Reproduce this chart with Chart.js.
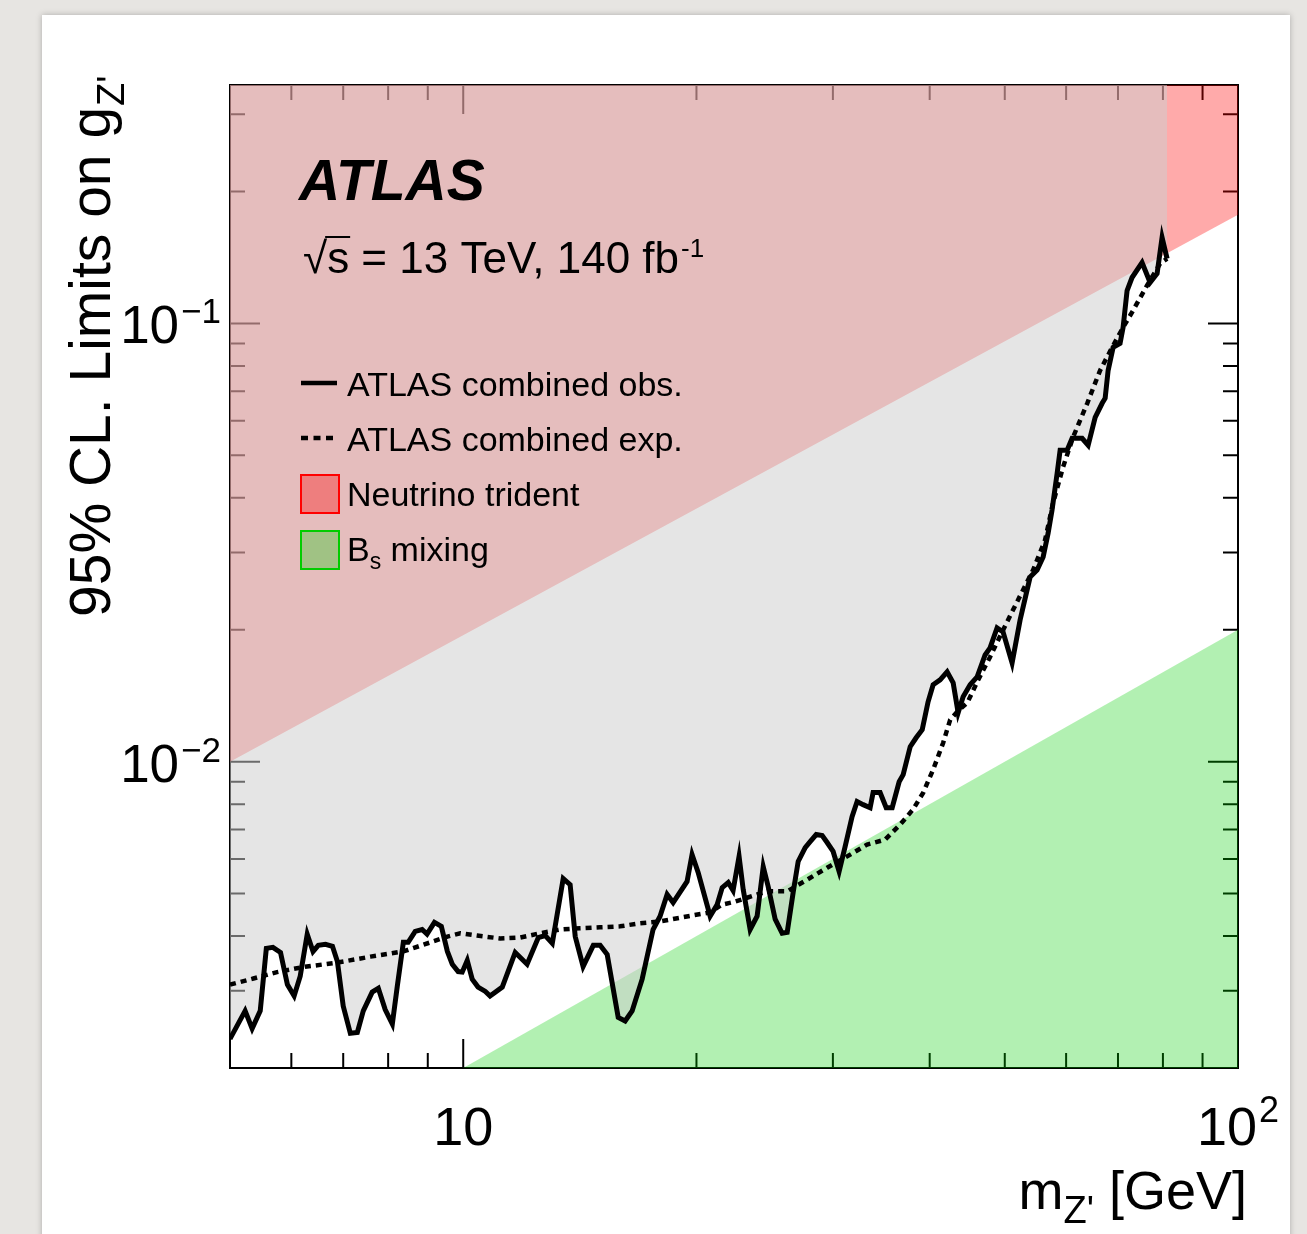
<!DOCTYPE html>
<html>
<head>
<meta charset="utf-8">
<title>Z' coupling limits</title>
<script src="https://cdn.jsdelivr.net/npm/chart.js@4.4.1/dist/chart.umd.min.js"></script>
<style>
  html, body { margin: 0; padding: 0; }
  body { width: 1307px; height: 1234px; background: #e7e5e2; position: relative; overflow: hidden; }
  #panel { position: absolute; left: 42px; top: 15px; width: 1248px; height: 1240px; background: #fff;
           box-shadow: 0 0 6px rgba(0,0,0,0.25); }
  #limitChart { position: absolute; left: 0; top: 0; }
</style>
</head>
<body>
<div id="panel"></div>
<canvas id="limitChart" width="1307" height="1234"></canvas>
<script>
const obsMass = [
  5.00, 5.23, 5.34, 5.47, 5.57, 5.68, 5.81, 5.93, 6.05, 6.16,
  6.29, 6.40, 6.50, 6.64, 6.78, 6.88, 7.00, 7.15, 7.30, 7.43,
  7.63, 7.77, 7.93, 8.10, 8.22, 8.37, 8.49, 8.67, 8.85, 8.98,
  9.18, 9.37, 9.54, 9.68, 9.85, 9.97, 10.12, 10.27, 10.45, 10.68,
  10.83, 11.23, 11.67, 12.09, 12.50, 12.76, 13.03, 13.46, 13.74, 13.95,
  14.28, 14.72, 15.02, 15.34, 15.85, 16.18, 16.52, 17.02, 17.58, 17.95,
  18.33, 18.66, 19.45, 19.74, 20.10, 20.83, 21.27, 21.59, 21.98, 22.30,
  22.70, 22.98, 23.46, 23.95, 24.39, 24.75, 25.27, 25.80, 26.19, 26.66,
  27.06, 27.63, 28.04, 28.55, 29.06, 29.49, 30.02, 30.56, 31.11, 31.76,
  32.24, 32.82, 33.51, 33.81, 34.52, 35.15, 35.78, 36.53, 36.97, 37.75,
  38.42, 39.12, 39.81, 40.41, 41.26, 42.13, 42.89, 43.53, 44.18, 45.11,
  46.06, 47.16, 47.86, 48.87, 49.75, 51.10, 52.33, 53.91, 55.04, 56.04,
  56.88, 57.54, 58.42, 58.94, 60.18, 61.08, 62.92, 64.06, 65.41, 66.78,
  67.38, 67.98, 68.99, 70.43, 71.07, 71.92, 72.99, 75.19, 77.01, 78.63,
  79.80, 81.00
];
const obsLimit = [
  0.00233, 0.00270, 0.00246, 0.00270, 0.00375, 0.00377, 0.00367, 0.00310, 0.00292, 0.00324,
  0.00404, 0.00369, 0.00381, 0.00383, 0.00379, 0.00350, 0.00277, 0.00240, 0.00241, 0.00270,
  0.00298, 0.00304, 0.00272, 0.00252, 0.00307, 0.00387, 0.00387, 0.00410, 0.00414, 0.00404,
  0.00430, 0.00421, 0.00369, 0.00345, 0.00332, 0.00331, 0.00352, 0.00319, 0.00306, 0.00299,
  0.00292, 0.00306, 0.00367, 0.00345, 0.00397, 0.00401, 0.00385, 0.00541, 0.00524, 0.00399,
  0.00341, 0.00381, 0.00381, 0.00363, 0.00261, 0.00256, 0.00270, 0.00319, 0.00414, 0.00444,
  0.00498, 0.00477, 0.00533, 0.00614, 0.00559, 0.00444, 0.00472, 0.00516, 0.00530, 0.00508,
  0.00608, 0.00511, 0.00414, 0.00444, 0.00576, 0.00519, 0.00437, 0.00406, 0.00408, 0.00503,
  0.00592, 0.00637, 0.00657, 0.00682, 0.00678, 0.00654, 0.00624, 0.00562, 0.00640, 0.00749,
  0.00811, 0.00798, 0.00785, 0.00850, 0.00850, 0.00785, 0.00785, 0.00900, 0.00934, 0.01082,
  0.01134, 0.01183, 0.01370, 0.01498, 0.01537, 0.01603, 0.01514, 0.01293, 0.01406, 0.01498,
  0.01562, 0.01752, 0.01818, 0.02019, 0.01977, 0.01680, 0.02106, 0.02638, 0.02737, 0.02931,
  0.03323, 0.03750, 0.04551, 0.05135, 0.05135, 0.05470, 0.05470, 0.05273, 0.06107, 0.06573,
  0.06748, 0.07815, 0.08817, 0.09004, 0.09793, 0.1189, 0.1273, 0.1377, 0.1240, 0.1300,
  0.1570, 0.1406
];

// expected limit
const expMass = [
  5.00, 5.36, 5.75, 6.22, 6.88, 7.59, 8.37, 9.07, 9.54, 9.91,
  10.42, 11.16, 11.85, 12.57, 13.34, 14.16, 15.02, 15.94, 16.92, 17.95,
  19.80, 20.83, 21.59, 22.30, 24.68, 26.19, 27.80, 29.49, 31.30, 33.21,
  35.04, 36.64, 38.07, 39.24, 40.41, 41.64, 42.51, 43.40, 44.72, 46.20,
  47.86, 49.75, 52.01, 54.39, 56.36, 57.71, 59.45, 61.24, 63.89, 66.38,
  68.79, 71.07, 73.20, 76.32, 79.33, 81.00
];
const expLimit = [
  0.00310, 0.00320, 0.00331, 0.00340, 0.00348, 0.00359, 0.00369, 0.00387, 0.00399, 0.00406,
  0.00401, 0.00395, 0.00397, 0.00406, 0.00414, 0.00417, 0.00419, 0.00421, 0.00428, 0.00432,
  0.00446, 0.00453, 0.00472, 0.00478, 0.00506, 0.00506, 0.00538, 0.00573, 0.00608, 0.00647,
  0.00664, 0.00719, 0.00778, 0.00850, 0.00959, 0.01105, 0.01246, 0.01300, 0.01362, 0.01537,
  0.01734, 0.01998, 0.02339, 0.02737, 0.03204, 0.03890, 0.04699, 0.05498, 0.06573, 0.07815,
  0.08817, 0.09793, 0.1070, 0.1221, 0.1370, 0.1406
];

// other constraints (straight lines in log-log)
const tridentMass = [5, 100];
const tridentLimit = [0.0100, 0.177];
const bsMass = [10, 100];
const bsLimit = [0.002, 0.02];

// axes
const xRange = [5, 100];
const yRange = [0.002, 0.35];
const xMajorTicks = [10, 100];
const xMinorTicks = [6, 7, 8, 9, 20, 30, 40, 50, 60, 70, 80, 90];
const yMajorTicks = [0.01, 0.1];
const yMinorTicks = [0.003, 0.004, 0.005, 0.006, 0.007, 0.008, 0.009,
                     0.02, 0.03, 0.04, 0.05, 0.06, 0.07, 0.08, 0.09, 0.2, 0.3];
const xTickLabels = [{ v: 10, base: '10', exp: '' }, { v: 100, base: '10', exp: '2' }];
const yTickLabels = [{ v: 0.1, base: '10', exp: '\u22121' }, { v: 0.01, base: '10', exp: '\u22122' }];

const FONT = '"Liberation Sans", Arial, Helvetica, sans-serif';
const TRIDENT_FILL = 'rgba(255,0,0,0.333)';
const BS_FILL = 'rgba(0,205,0,0.3)';

function toPoints(xs, ys) {
    return xs.map((x, i) => ({ x: x, y: ys[i] }));
}

// frame + inward ROOT style ticks, drawn under the filled areas
const framePlugin = {
    id: 'frame',
    beforeDatasetsDraw(chart) {
        const c = chart.ctx;
        const a = chart.chartArea;
        const xs = chart.scales.x, ys = chart.scales.y;
        c.save();
        c.strokeStyle = '#000';
        c.lineWidth = 2;
        c.strokeRect(a.left, a.top, a.right - a.left, a.bottom - a.top);
        c.beginPath();
        const xTick = (v, len) => {
            const px = xs.getPixelForValue(v);
            c.moveTo(px, a.bottom); c.lineTo(px, a.bottom - len);
            c.moveTo(px, a.top); c.lineTo(px, a.top + len);
        };
        const yTick = (v, len) => {
            const py = ys.getPixelForValue(v);
            c.moveTo(a.left, py); c.lineTo(a.left + len, py);
            c.moveTo(a.right, py); c.lineTo(a.right - len, py);
        };
        xMajorTicks.forEach(v => xTick(v, 29));
        xMinorTicks.forEach(v => xTick(v, 15));
        yMajorTicks.forEach(v => yTick(v, 30));
        yMinorTicks.forEach(v => yTick(v, 15));
        c.stroke();
        c.restore();
    }
};

function drawPow(c, base, exp, x, y, size, expSize, expRise, align) {
    c.font = size + 'px ' + FONT;
    const wb = c.measureText(base).width;
    c.font = expSize + 'px ' + FONT;
    const we = exp ? c.measureText(exp).width + 2 : 0;
    let start = x;
    if (align === 'center') start = x - (wb + we) / 2;
    if (align === 'right') start = x - (wb + we);
    c.textAlign = 'left';
    c.font = size + 'px ' + FONT;
    c.fillText(base, start, y);
    if (exp) {
        c.font = expSize + 'px ' + FONT;
        c.fillText(exp, start + wb + 2, y - expRise);
    }
}

const textPlugin = {
    id: 'texts',
    afterDraw(chart) {
        const c = chart.ctx;
        const xs = chart.scales.x, ys = chart.scales.y;
        c.save();
        c.fillStyle = '#000';
        c.textBaseline = 'alphabetic';

        // tick labels
        xTickLabels.forEach(t => {
            drawPow(c, t.base, t.exp, xs.getPixelForValue(t.v), 1145, 54, 36, 23, 'center');
        });
        yTickLabels.forEach(t => {
            drawPow(c, t.base, t.exp, 221, ys.getPixelForValue(t.v) + 20, 53, 35, 20, 'right');
        });

        // x title
        c.font = '54px ' + FONT;
        const wm = c.measureText('m').width;
        const wg = c.measureText(' [GeV]').width;
        c.font = '38px ' + FONT;
        const wz = c.measureText("Z'").width;
        let x0 = 1247 - (wm + wz + wg);
        c.font = '54px ' + FONT;
        c.fillText('m', x0, 1209);
        c.font = '38px ' + FONT;
        c.fillText("Z'", x0 + wm, 1223);
        c.font = '54px ' + FONT;
        c.fillText(' [GeV]', x0 + wm + wz, 1209);

        // y title
        c.save();
        c.translate(110, 617);
        c.rotate(-Math.PI / 2);
        c.font = '57px ' + FONT;
        const yt = '95% CL. Limits on g';
        c.fillText(yt, 0, 0);
        const wy = c.measureText(yt).width;
        c.font = '38px ' + FONT;
        c.fillText("Z'", wy + 1, 14);
        c.restore();

        // ATLAS label
        c.font = 'italic bold 57px ' + FONT;
        c.fillText('ATLAS', 299, 200);
        c.font = '44px ' + FONT;
        c.fillText('\u221A', 303, 273);
        const wsq = c.measureText('\u221A').width;
        c.fillText('s', 303 + wsq, 273);
        const ws = c.measureText('s').width;
        c.lineWidth = 2;
        c.strokeStyle = '#000';
        c.beginPath();
        c.moveTo(303 + wsq - 2, 237);
        c.lineTo(303 + wsq + ws + 1, 237);
        c.stroke();
        const rest = ' = 13 TeV, 140 fb';
        c.fillText(rest, 303 + wsq + ws, 273);
        const wr = c.measureText(rest).width;
        c.font = '26px ' + FONT;
        c.fillText('-1', 303 + wsq + ws + wr + 2, 257);

        // legend
        c.font = '34px ' + FONT;
        c.lineWidth = 4.5;
        c.beginPath();
        c.moveTo(301, 383); c.lineTo(337, 383);
        c.stroke();
        c.fillText('ATLAS combined obs.', 347, 396);
        c.setLineDash([7, 5.5]);
        c.beginPath();
        c.moveTo(301, 438); c.lineTo(336, 438);
        c.stroke();
        c.setLineDash([]);
        c.fillText('ATLAS combined exp.', 347, 451);

        c.lineWidth = 2;
        c.fillStyle = TRIDENT_FILL;
        c.fillRect(301, 475, 38, 38);
        c.strokeStyle = '#ff0000';
        c.strokeRect(301, 475, 38, 38);
        c.fillStyle = BS_FILL;
        c.fillRect(301, 531, 38, 38);
        c.strokeStyle = '#00cc00';
        c.strokeRect(301, 531, 38, 38);

        c.fillStyle = '#000';
        c.fillText('Neutrino trident', 347, 506);
        c.fillText('B', 347, 561);
        const wB = c.measureText('B').width;
        c.font = '23px ' + FONT;
        c.fillText('s', 347 + wB, 569);
        const wsub = c.measureText('s').width;
        c.font = '34px ' + FONT;
        c.fillText(' mixing', 347 + wB + wsub, 561);

        c.restore();
    }
};

document.addEventListener('DOMContentLoaded', () => {
    const ctx = document.getElementById('limitChart').getContext('2d');
    new Chart(ctx, {
        type: 'line',
        data: {
            datasets: [
                {
                    label: 'ATLAS combined exp.',
                    data: toPoints(expMass, expLimit),
                    borderColor: '#000',
                    borderWidth: 4.5,
                    borderDash: [6, 5],
                    pointRadius: 0,
                    fill: false,
                    order: 0
                },
                {
                    label: 'ATLAS combined obs.',
                    data: toPoints(obsMass, obsLimit),
                    borderColor: '#000',
                    borderWidth: 5,
                    pointRadius: 0,
                    fill: 'end',
                    backgroundColor: 'rgba(205,205,205,0.52)',
                    order: 1
                },
                {
                    label: 'Neutrino trident',
                    data: toPoints(tridentMass, tridentLimit),
                    borderColor: 'rgba(0,0,0,0)',
                    borderWidth: 0,
                    pointRadius: 0,
                    fill: 'end',
                    backgroundColor: TRIDENT_FILL,
                    order: 2
                },
                {
                    label: 'Bs mixing',
                    data: toPoints(bsMass, bsLimit),
                    borderColor: 'rgba(0,0,0,0)',
                    borderWidth: 0,
                    pointRadius: 0,
                    fill: 'start',
                    backgroundColor: BS_FILL,
                    order: 3
                }
            ]
        },
        options: {
            responsive: false,
            animation: false,
            devicePixelRatio: 1,
            layout: { padding: { left: 230, right: 69, top: 85, bottom: 166 } },
            plugins: {
                legend: { display: false },
                tooltip: { enabled: false }
            },
            scales: {
                x: { type: 'logarithmic', min: xRange[0], max: xRange[1], display: false },
                y: { type: 'logarithmic', min: yRange[0], max: yRange[1], display: false }
            }
        },
        plugins: [framePlugin, textPlugin]
    });
});
</script>
</body>
</html>
